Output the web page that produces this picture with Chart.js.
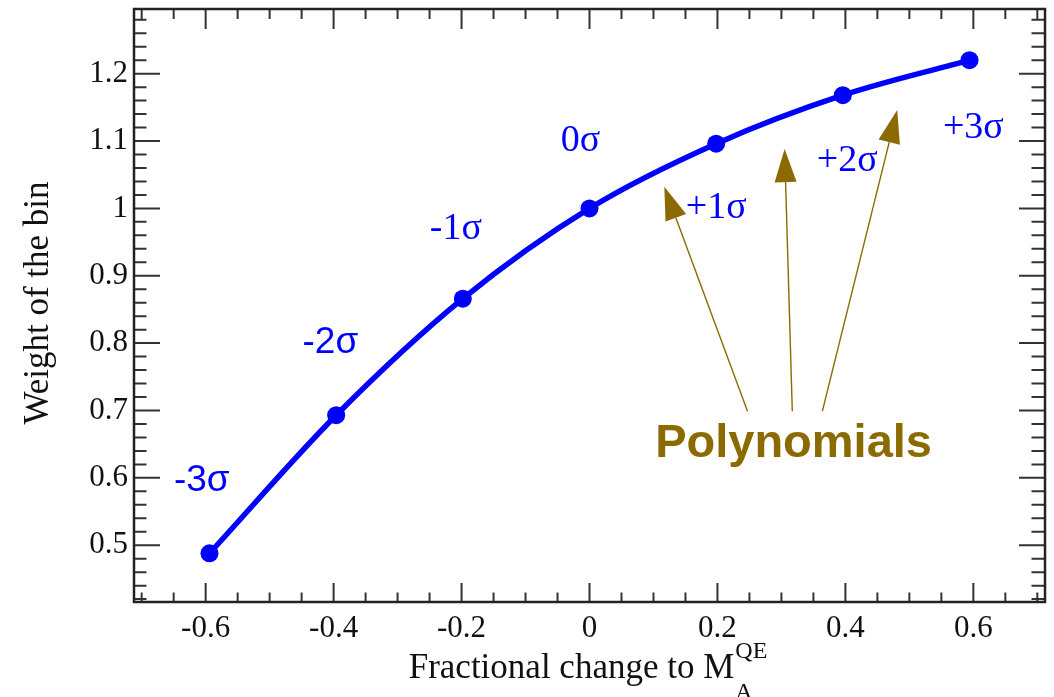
<!DOCTYPE html>
<html>
<head>
<meta charset="utf-8">
<script src="https://cdn.jsdelivr.net/npm/chart.js@4.4.0/dist/chart.umd.min.js"></script>
<style>
  html, body { margin: 0; padding: 0; background: #fff; }
  #wrap { width: 1054px; height: 697px; }
</style>
</head>
<body>
<div id="wrap"><canvas id="fitChart" width="1054" height="697"></canvas></div>
<script>
// bin weight for each sigma shift of M_A
const shiftValues = [-0.594, -0.396, -0.198, 0, 0.198, 0.396, 0.594];
const binWeights = [0.488, 0.693, 0.866, 1.0, 1.096, 1.168, 1.220];

// sigma annotations, anchored in data units
const sigmaLabels = ['-3σ', '-2σ', '-1σ', '0σ', '+1σ', '+2σ', '+3σ'];
const sigmaLabelX = [-0.606, -0.405, -0.209, -0.014, 0.198, 0.403, 0.600];
const sigmaLabelY = [0.596, 0.800, 0.969, 1.100, 1.001, 1.071, 1.119];

const xTickValues = [-0.6, -0.4, -0.2, 0, 0.2, 0.4, 0.6];
const xTickLabels = ['-0.6', '-0.4', '-0.2', '0', '0.2', '0.4', '0.6'];
const yTickValues = [0.5, 0.6, 0.7, 0.8, 0.9, 1.0, 1.1, 1.2];
const yTickLabels = ['0.5', '0.6', '0.7', '0.8', '0.9', '1', '1.1', '1.2'];

// arrows to the polynomial segments (tail -> tip)
const arrowTails = [[0.247, 0.699], [0.317, 0.699], [0.364, 0.699]];
const arrowTips = [[0.117, 1.032], [0.305, 1.088], [0.481, 1.146]];

const BLUE = '#0000ff';
const GOLD = '#8b6b00';
const SERIF = '"Liberation Serif", "Times New Roman", serif';
const SANS = '"Liberation Sans", Arial, sans-serif';

// frame with inward ticks on all four sides
const framePlugin = {
  id: 'frame',
  afterDraw(chart) {
    const { ctx, chartArea: a, scales } = chart;
    const xs = scales.x, ys = scales.y;
    ctx.save();
    ctx.strokeStyle = '#333';
    ctx.lineWidth = 2;
    ctx.beginPath();
    for (let i = -14; i <= 14; i++) {
      const v = i * 0.05;
      const px = xs.getPixelForValue(v);
      const major = i % 4 === 0;
      const lb = major ? 19 : 9.5;
      const lt = major ? 20 : 10;
      ctx.moveTo(px, a.bottom); ctx.lineTo(px, a.bottom - lb);
      ctx.moveTo(px, a.top); ctx.lineTo(px, a.top + lt);
    }
    for (let i = 21; i <= 64; i++) {
      const v = i * 0.02;
      const py = ys.getPixelForValue(v);
      const major = i % 5 === 0;
      const ll = major ? 26 : 12.5;
      const lr = major ? 26 : 13.5;
      ctx.moveTo(a.left, py); ctx.lineTo(a.left + ll, py);
      ctx.moveTo(a.right, py); ctx.lineTo(a.right - lr, py);
    }
    ctx.stroke();
    ctx.lineWidth = 2.5;
    ctx.strokeStyle = '#222';
    ctx.strokeRect(a.left, a.top, a.right - a.left, a.bottom - a.top);

    // sigma labels
    ctx.fillStyle = BLUE;
    ctx.textAlign = 'center';
    ctx.textBaseline = 'middle';
    sigmaLabels.forEach((t, i) => {
      ctx.font = (i < 2 ? '37px ' + SANS : '38px ' + SERIF);
      ctx.fillText(t, xs.getPixelForValue(sigmaLabelX[i]), ys.getPixelForValue(sigmaLabelY[i]));
    });

    // arrows
    ctx.strokeStyle = GOLD;
    ctx.fillStyle = GOLD;
    ctx.lineWidth = 1.4;
    arrowTails.forEach((tail, i) => {
      const x0 = xs.getPixelForValue(tail[0]), y0 = ys.getPixelForValue(tail[1]);
      const x1 = xs.getPixelForValue(arrowTips[i][0]), y1 = ys.getPixelForValue(arrowTips[i][1]);
      const ang = Math.atan2(y1 - y0, x1 - x0);
      const hl = 33, hw = 11;
      const bx = x1 - hl * Math.cos(ang), by = y1 - hl * Math.sin(ang);
      ctx.beginPath();
      ctx.moveTo(x0, y0); ctx.lineTo(bx, by);
      ctx.stroke();
      ctx.beginPath();
      ctx.moveTo(x1, y1);
      ctx.lineTo(bx + hw * Math.sin(ang), by - hw * Math.cos(ang));
      ctx.lineTo(bx - hw * Math.sin(ang), by + hw * Math.cos(ang));
      ctx.closePath();
      ctx.fill();
    });
    ctx.font = 'bold 47px ' + SANS;
    ctx.textBaseline = 'alphabetic';
    ctx.fillText('Polynomials', xs.getPixelForValue(0.319), ys.getPixelForValue(0.6305));

    // axis titles
    ctx.fillStyle = '#111';
    ctx.font = '35px ' + SERIF;
    const main = 'Fractional change to M';
    const wMain = ctx.measureText(main).width;
    ctx.font = '24px ' + SERIF;
    const wSup = ctx.measureText('QE').width;
    const cx = (a.left + a.right) / 2 - 2;
    const start = cx - (wMain + wSup) / 2;
    ctx.textAlign = 'left';
    ctx.font = '35px ' + SERIF;
    ctx.fillText(main, start, 678);
    ctx.font = '24px ' + SERIF;
    ctx.fillText('QE', start + wMain + 1, 658);
    ctx.fillText('A', start + wMain + 1, 699);

    ctx.save();
    ctx.translate(48, 303);
    ctx.rotate(-Math.PI / 2);
    ctx.textAlign = 'center';
    ctx.font = '35px ' + SERIF;
    ctx.fillText('Weight of the bin', 0, 0);
    ctx.restore();
    ctx.restore();
  }
};

new Chart(document.getElementById('fitChart'), {
  type: 'line',
  data: {
    datasets: [{
      data: shiftValues.map((x, i) => ({ x: x, y: binWeights[i] })),
      borderColor: BLUE,
      backgroundColor: BLUE,
      borderWidth: 5.5,
      pointRadius: 9,
      pointBorderWidth: 0,
      cubicInterpolationMode: 'monotone',
      fill: false
    }]
  },
  options: {
    responsive: false,
    animation: false,
    layout: { padding: { top: 6, right: 9, left: 0, bottom: 0 } },
    plugins: {
      legend: { display: false },
      tooltip: { enabled: false }
    },
    scales: {
      x: {
        type: 'linear',
        min: -0.712,
        max: 0.712,
        afterBuildTicks: (s) => { s.ticks = xTickValues.map(v => ({ value: v })); },
        afterFit: (s) => { s.height = 95; s.paddingLeft = 0; s.paddingRight = 0; },
        grid: { display: false, drawTicks: false },
        border: { display: false },
        ticks: {
          padding: 8,
          maxRotation: 0,
          autoSkip: false,
          color: '#111',
          font: { family: SERIF, size: 31 },
          callback: (v) => xTickLabels[xTickValues.findIndex(t => Math.abs(t - v) < 1e-6)]
        }
      },
      y: {
        type: 'linear',
        min: 0.4157,
        max: 1.296,
        afterBuildTicks: (s) => { s.ticks = yTickValues.map(v => ({ value: v })); },
        afterFit: (s) => { s.width = 134; s.paddingTop = 0; s.paddingBottom = 0; },
        grid: { display: false, drawTicks: false },
        border: { display: false },
        ticks: {
          padding: 6,
          autoSkip: false,
          color: '#111',
          font: { family: SERIF, size: 31 },
          callback: (v) => yTickLabels[yTickValues.findIndex(t => Math.abs(t - v) < 1e-6)]
        }
      }
    }
  },
  plugins: [framePlugin]
});
</script>
</body>
</html>
